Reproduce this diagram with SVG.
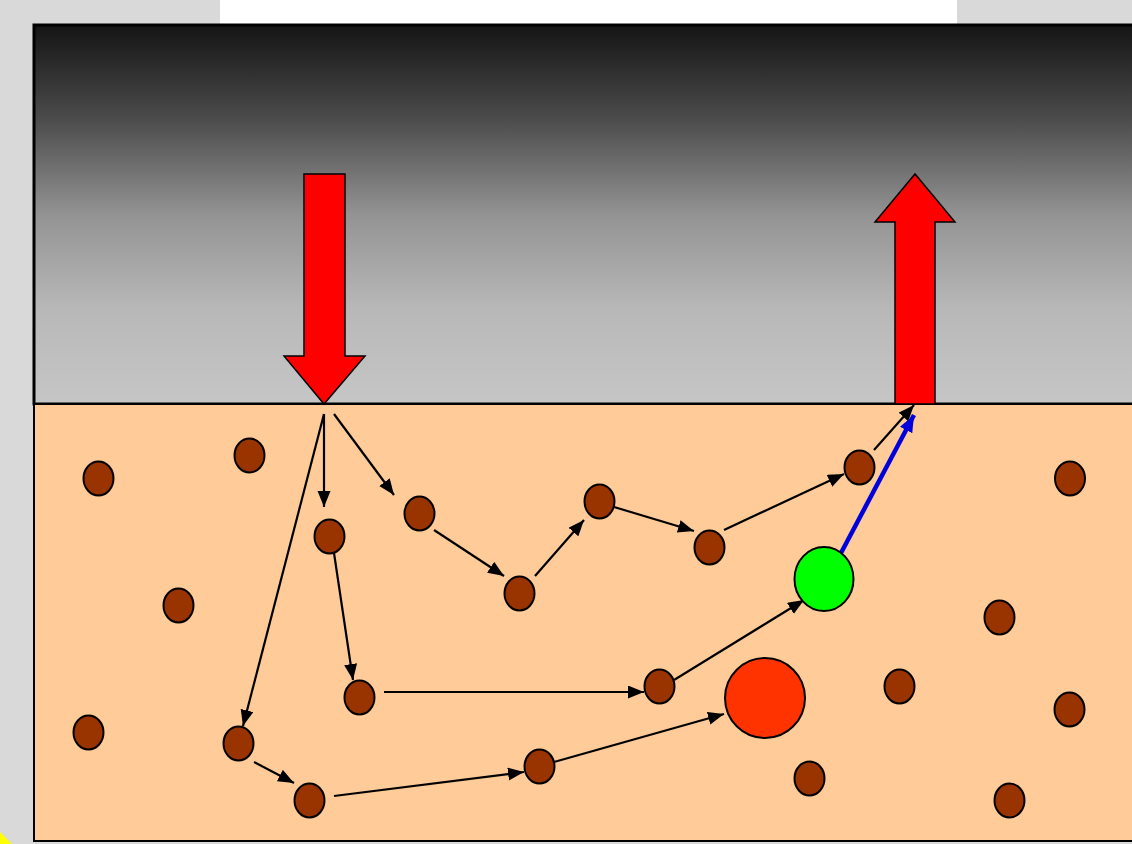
<svg xmlns="http://www.w3.org/2000/svg" width="1132" height="844" viewBox="0 0 1132 844">
<defs>
<linearGradient id="sky" x1="0" y1="0" x2="0" y2="1">
<stop offset="0" stop-color="#141414"/>
<stop offset="0.25" stop-color="#4c4c4c"/>
<stop offset="0.5" stop-color="#939393"/>
<stop offset="0.75" stop-color="#b8b8b8"/>
<stop offset="1" stop-color="#c6c6c6"/>
</linearGradient>
<marker id="ah" markerUnits="userSpaceOnUse" markerWidth="18" markerHeight="14" refX="16" refY="6.5" orient="auto">
<path d="M0,0 L16,6.5 L0,13 Z" fill="#000"/>
</marker>
<marker id="ahb" markerUnits="userSpaceOnUse" markerWidth="18" markerHeight="14" refX="17" refY="7" orient="auto">
<path d="M0,0 L17,7 L0,14 Z" fill="#0000dd"/>
</marker>
<style>
.dot{fill:#993300;stroke:#000;stroke-width:2}
.link{fill:none;stroke:#000;stroke-width:2.2;marker-end:url(#ah)}
.big{fill:#ff0000;stroke:#000;stroke-width:1.5}
</style>
</defs>
<rect x="0" y="0" width="1132" height="844" fill="#d9d9d9"/>
<rect x="220" y="0" width="737" height="24" fill="#ffffff"/>
<polygon points="0,832 12,844 0,844" fill="#ffff00"/>
<g id="panel">
<rect x="34" y="25" width="1100" height="379" fill="url(#sky)" stroke="#000" stroke-width="3"/>
<rect x="34" y="404" width="1100" height="437" fill="#ffcc99" stroke="#000" stroke-width="2"/>
</g>
<g id="arrow-in">
<polygon class="big" points="304,174 345,174 345,356 365,356 324,404 284,356 304,356"/>
</g>
<g id="arrow-out">
<polygon class="big" points="895,404 935,404 935,222 955,222 915,174 875,222 895,222"/>
</g>
<g id="connectors">
<line class="link" x1="324" y1="414" x2="324" y2="507"/>
<line class="link" x1="334" y1="414" x2="394" y2="495"/>
<line class="link" x1="324" y1="414" x2="243" y2="726"/>
<line class="link" x1="434" y1="530" x2="504" y2="576"/>
<line class="link" x1="535" y1="576" x2="584" y2="520"/>
<line class="link" x1="614" y1="507" x2="694" y2="531"/>
<line class="link" x1="724" y1="530" x2="844" y2="474"/>
<line class="link" x1="874" y1="450" x2="914" y2="405"/>
<line class="link" x1="334" y1="553" x2="353" y2="680"/>
<line class="link" x1="384" y1="692" x2="644" y2="692"/>
<line class="link" x1="674" y1="680" x2="804" y2="600"/>
<line class="link" x1="254" y1="762" x2="294" y2="783"/>
<line class="link" x1="334" y1="796" x2="524" y2="772"/>
<line class="link" x1="554" y1="762" x2="724" y2="714"/>
<line x1="841" y1="553" x2="914" y2="415" stroke="#0000dd" stroke-width="4.5" marker-end="url(#ahb)"/>
</g>
<g id="particles">
<ellipse class="dot" cx="98.5" cy="478.5" rx="15" ry="17"/>
<ellipse class="dot" cx="249.5" cy="455.5" rx="15" ry="17"/>
<ellipse class="dot" cx="178.5" cy="605.5" rx="15" ry="17"/>
<ellipse class="dot" cx="88.5" cy="732.5" rx="15" ry="17"/>
<ellipse class="dot" cx="238.5" cy="743.5" rx="15" ry="17"/>
<ellipse class="dot" cx="309.5" cy="800.5" rx="15" ry="17"/>
<ellipse class="dot" cx="329.5" cy="536.5" rx="15" ry="17"/>
<ellipse class="dot" cx="359.5" cy="697.5" rx="15" ry="17"/>
<ellipse class="dot" cx="419.5" cy="513.5" rx="15" ry="17"/>
<ellipse class="dot" cx="519.5" cy="593.5" rx="15" ry="17"/>
<ellipse class="dot" cx="539.5" cy="766.5" rx="15" ry="17"/>
<ellipse class="dot" cx="599.5" cy="501.5" rx="15" ry="17"/>
<ellipse class="dot" cx="659.5" cy="686.5" rx="15" ry="17"/>
<ellipse class="dot" cx="709.5" cy="547.5" rx="15" ry="17"/>
<ellipse class="dot" cx="859.5" cy="467.5" rx="15" ry="17"/>
<ellipse class="dot" cx="1070" cy="478.5" rx="15" ry="17"/>
<ellipse class="dot" cx="999.5" cy="617.5" rx="15" ry="17"/>
<ellipse class="dot" cx="899.5" cy="686.5" rx="15" ry="17"/>
<ellipse class="dot" cx="1069.5" cy="709.5" rx="15" ry="17"/>
<ellipse class="dot" cx="809.5" cy="778.5" rx="15" ry="17"/>
<ellipse class="dot" cx="1009.5" cy="800.5" rx="15" ry="17"/>
</g>
<g id="red-particle">
<circle cx="765" cy="698" r="40" fill="#ff3300" stroke="#000" stroke-width="2"/>
</g>
<g id="green-particle">
<ellipse cx="824" cy="579" rx="29.5" ry="32" fill="#00ff00" stroke="#000" stroke-width="2"/>
</g>
</svg>
